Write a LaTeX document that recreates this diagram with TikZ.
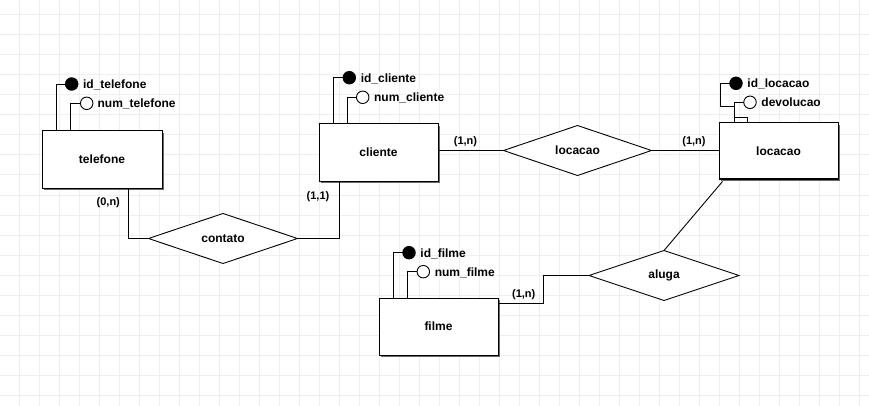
\documentclass[tikz,border=0pt]{standalone}
\usepackage{fontspec}
\setmainfont{Liberation Sans}
\usetikzlibrary{shapes.geometric,calc,shadows}
\definecolor{gridc}{RGB}{236,239,244}
\definecolor{shadowc}{RGB}{105,105,105}
\begin{document}
\begin{tikzpicture}[x=1pt,y=-1pt,
  every node/.style={font=\fontsize{12}{14}\selectfont\bfseries},
  entity/.style={draw=black, line width=1pt, fill=white, rectangle, inner sep=0pt, outer sep=0pt,
    minimum width=119pt, minimum height=57pt,
    general shadow={fill=shadowc, shadow xshift=2pt, shadow yshift=-2pt}},
  rel/.style={draw=black, line width=0.9pt, fill=white, diamond, shape aspect=3, inner sep=0pt, outer sep=0pt},
  keyattr/.style={circle, draw=black, fill=black, line width=0.9pt, minimum size=12.5pt, inner sep=0pt, outer sep=0pt},
  attr/.style={circle, draw=black, fill=white, line width=0.9pt, minimum size=12.5pt, inner sep=0pt, outer sep=0pt},
  attrtext/.style={anchor=west, inner sep=0pt, text height=9pt, text depth=0pt},
  card/.style={inner sep=0pt, font=\fontsize{11}{13}\selectfont\bfseries},
  conn/.style={draw=black, line width=0.9pt}]
\useasboundingbox (0,0) rectangle (869,406);
\fill[white] (0,0) rectangle (869,406);
\foreach \x in {19,39,...,859} \draw[gridc, line width=1pt] (\x,0) -- (\x,406);
\foreach \y in {15,35,...,395} \draw[gridc, line width=1pt] (0,\y) -- (869,\y);

% entities
\node[entity, minimum width=120pt] (tel) at (102,159.5) {telefone};
\node[entity] (cli) at (378.5,152.5) {cliente};
\node[entity, minimum height=56pt] (loc) at (778.5,151) {locacao};
\node[entity] (fil) at (438.5,326.5) {filme};

% relationships
\node[rel, minimum width=148pt, minimum height=50pt] (rloc) at (577.5,150.5) {locacao};
\node[rel, minimum width=149pt, minimum height=50pt] (cont) at (223,238.5) {contato};
\node[rel, minimum width=150pt, minimum height=50pt] (alu) at (664,275.5) {aluga};

% attributes
\node[keyattr] (idtel) at (71.7,84) {};
\node[attrtext] (tidtel) at ($(idtel.east)+(5,0)$) {id\_telefone};
\node[attr] (numtel) at (86.7,103.3) {};
\node[attrtext] (tnumtel) at ($(numtel.east)+(4.5,0)$) {num\_telefone};

\node[keyattr] (idcli) at (349.3,77.7) {};
\node[attrtext] (tidcli) at ($(idcli.east)+(5,0)$) {id\_cliente};
\node[attr] (numcli) at (362.7,97.3) {};
\node[attrtext] (tnumcli) at ($(numcli.east)+(5,0)$) {num\_cliente};

\node[keyattr] (idloc) at (736,83.3) {};
\node[attrtext] (tidloc) at ($(idloc.east)+(5,0)$) {id\_locacao};
\node[attr] (devol) at (750,102.3) {};
\node[attrtext] (tdevol) at ($(devol.east)+(5,0)$) {devolucao};

\node[keyattr] (idfil) at (409,252.7) {};
\node[attrtext] (tidfil) at ($(idfil.east)+(5,0)$) {id\_filme};
\node[attr] (numfil) at (423.3,271.7) {};
\node[attrtext] (tnumfil) at ($(numfil.east)+(5,0)$) {num\_filme};

% attribute connectors
\draw[conn] (idtel.west) -| ($(tel.north west)+(14,0)$);
\draw[conn] (numtel.west) -| ($(tel.north west)+(28.3,0)$);
\draw[conn] (idcli.west) -| ($(cli.north west)+(14.7,0)$);
\draw[conn] (numcli.west) -| ($(cli.north west)+(28.7,0)$);
\draw[conn] (idfil.west) -| ($(fil.north west)+(14,0)$);
\draw[conn] (numfil.west) -| ($(fil.north west)+(28,0)$);
\draw[conn] (idloc.west) -| ($(loc.north west)+(1.5,-17)$) -| ($(loc.north west)+(15,0)$);
\draw[conn] (devol.west) -| ($(loc.north west)+(15,0)$);
\draw[conn] ($(loc.north west)+(15,-6)$) -| ($(loc.north west)+(28,0)$);

% relationship connectors
\draw[conn] ($(tel.south west)+(86,0)$) |- (cont.west);
\draw[conn] (cont.east) -| ($(cli.south west)+(20.3,0)$);
\draw[conn] (rloc.west -| cli.east) -- (rloc.west);
\draw[conn] (rloc.east) -- (rloc.east -| loc.west);
\draw[conn] (alu.north) -- ($(loc.south west)+(3.5,2.5)$);
\draw[conn] ($(fil.north east)+(0,5)$) -- ++(45,0) |- (alu.west);

% cardinalities
\node[card] (c1) at (108.3,202.3) {(0,n)};
\node[card] (c2) at (318,197) {(1,1)};
\node[card] (c3) at (465.5,142) {(1,n)};
\node[card] (c4) at (694,142) {(1,n)};
\node[card] (c5) at (523.7,294.7) {(1,n)};
\end{tikzpicture}
\end{document}
